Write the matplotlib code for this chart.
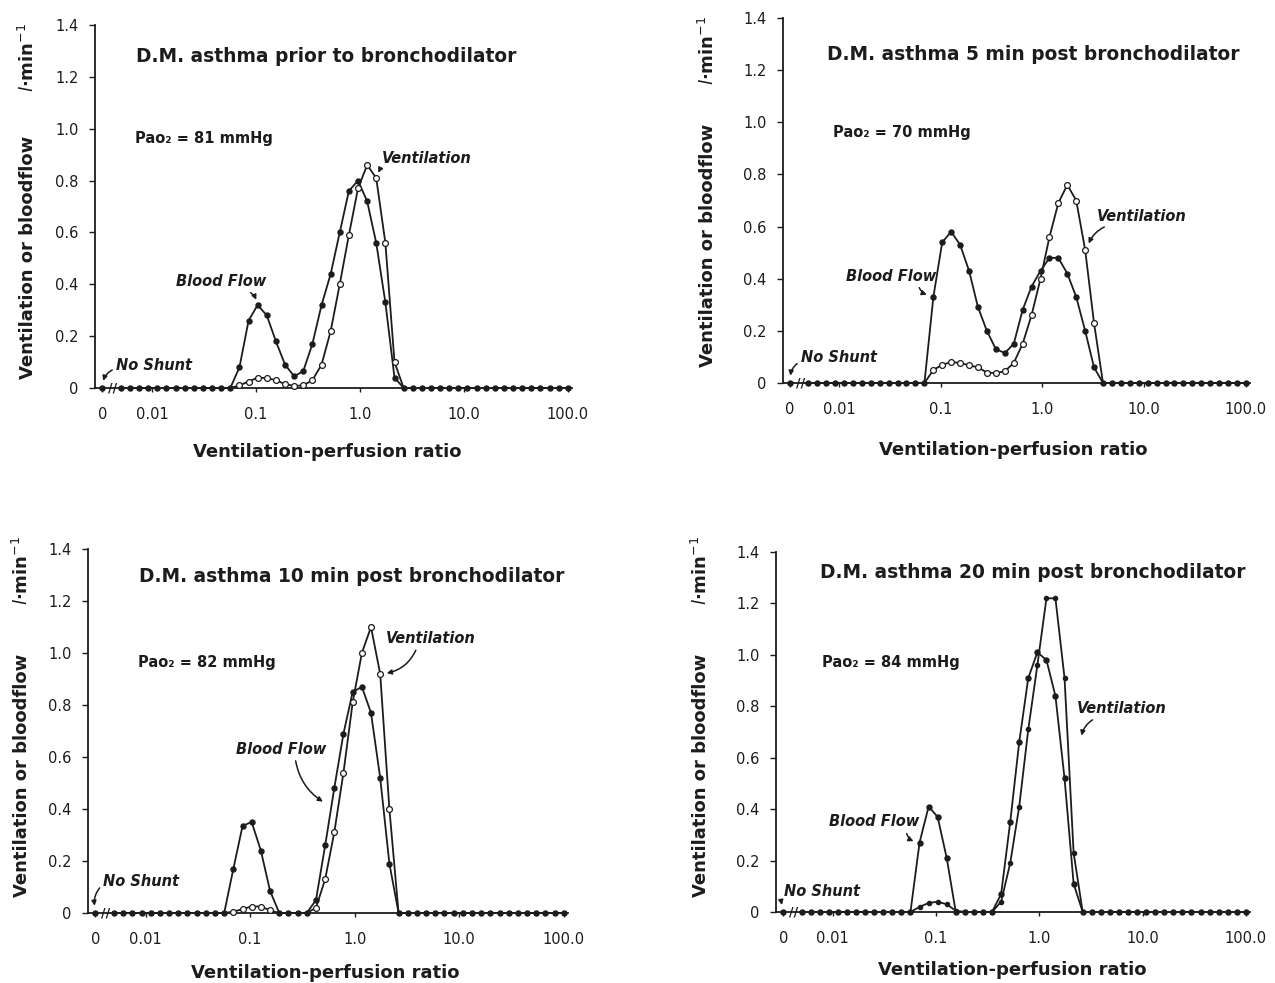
import numpy as np
import matplotlib.pyplot as plt
from matplotlib.ticker import NullLocator

# 50 log-spaced V/Q compartments (0.005 .. 100)
VQ = [0.005, 0.00612, 0.0075, 0.00917, 0.0112, 0.0137, 0.0168, 0.0206, 0.0252, 0.0308,
      0.0378, 0.0461, 0.0565, 0.0692, 0.0847, 0.1035, 0.1268, 0.1552, 0.1901, 0.2328,
      0.2844, 0.3483, 0.4266, 0.5224, 0.6383, 0.7816, 0.9572, 1.172, 1.432, 1.754,
      2.148, 2.630, 3.214, 3.936, 4.819, 5.902, 7.211, 8.831, 10.81, 13.24,
      16.22, 19.82, 24.27, 29.72, 36.39, 44.46, 54.45, 66.68, 81.66, 100.0]
SHUNT_X = 10 ** -2.48   # where "0" (shunt) sits on the axis


def place(start, values):
    out = np.zeros(len(VQ))
    out[start:start + len(values)] = values
    return out


# blood flow / ventilation, l/min
bf_pre = place(12, [0, 0.08, 0.26, 0.32, 0.28, 0.18, 0.09, 0.045, 0.065, 0.17,
                    0.32, 0.44, 0.60, 0.76, 0.80, 0.72, 0.56, 0.33, 0.04, 0])
va_pre = place(12, [0, 0.01, 0.025, 0.04, 0.038, 0.03, 0.015, 0.008, 0.01, 0.03,
                    0.09, 0.22, 0.40, 0.59, 0.77, 0.86, 0.81, 0.56, 0.10, 0])
bf_5 = place(13, [0, 0.33, 0.54, 0.58, 0.53, 0.43, 0.29, 0.20, 0.13, 0.115, 0.15,
                  0.28, 0.37, 0.43, 0.48, 0.48, 0.42, 0.33, 0.20, 0.06, 0])
va_5 = place(13, [0, 0.05, 0.07, 0.08, 0.077, 0.068, 0.06, 0.04, 0.038, 0.045, 0.077,
                  0.15, 0.26, 0.40, 0.56, 0.69, 0.76, 0.70, 0.51, 0.23, 0])
bf_10 = place(12, [0, 0.17, 0.335, 0.35, 0.24, 0.085, 0, 0, 0, 0,
                   0.05, 0.26, 0.48, 0.69, 0.85, 0.87, 0.77, 0.52, 0.19, 0])
va_10 = place(12, [0, 0.005, 0.015, 0.025, 0.025, 0.01, 0, 0, 0, 0,
                   0.02, 0.13, 0.31, 0.54, 0.81, 1.00, 1.10, 0.92, 0.40, 0])
bf_20 = place(12, [0, 0.27, 0.41, 0.37, 0.21, 0, 0, 0, 0, 0,
                   0.07, 0.35, 0.66, 0.91, 1.01, 0.98, 0.84, 0.52, 0.11, 0])
va_20 = place(12, [0, 0.02, 0.035, 0.04, 0.03, 0.005, 0, 0, 0, 0,
                   0.04, 0.19, 0.41, 0.71, 0.96, 1.22, 1.22, 0.91, 0.23, 0])

titles = ["D.M. asthma prior to bronchodilator",
          "D.M. asthma 5 min post bronchodilator",
          "D.M. asthma 10 min post bronchodilator",
          "D.M. asthma 20 min post bronchodilator"]
pao2 = [81, 70, 82, 84]
xtick_vals = [SHUNT_X, 0.01, 0.1, 1, 10, 100]
xtick_labels = ["0", "0.01", "0.1", "1.0", "10.0", "100.0"]
ytick_vals = [0, 0.2, 0.4, 0.6, 0.8, 1.0, 1.2, 1.4]
ytick_labels = ["0", "0.2", "0.4", "0.6", "0.8", "1.0", "1.2", "1.4"]

W, H = 1275, 983
INK = "#1c1c1c"

fig = plt.figure(figsize=(W / 100, H / 100), dpi=100)


def fx(x):
    return x / W


def fy(y):
    return 1 - y / H


# layout in pixels: axes box (left, top, right, bottom), title centre,
# Pao2 text start, xlabel centre, ylabel x / centre y, unit centre y
layout = [
    dict(box=(95, 25, 572, 388), title=(326, 57), pao=(135, 138), xl=(327, 452),
         yl=(28, 257, 57)),
    dict(box=(783, 18, 1250, 383), title=(1033, 55), pao=(833, 133), xl=(1013, 450),
         yl=(708, 245, 50)),
    dict(box=(88, 549, 568, 913), title=(352, 577), pao=(138, 662), xl=(325, 973),
         yl=(22, 775, 570)),
    dict(box=(776, 552, 1250, 912), title=(1033, 572), pao=(822, 662), xl=(1012, 970),
         yl=(701, 775, 570)),
]

# annotation texts (data coords) and arrow targets
notes = [
    [("Blood Flow", (10 ** -1.34, 0.41), (0.1035, 0.325), (0.72, 0.0), -0.35),
     ("Ventilation", (10 ** 0.64, 0.885), (1.45, 0.815), (0.08, 0.1), 0.3),
     ("No Shunt", (10 ** -1.98, 0.088), (SHUNT_X, 0.012), (0.0, 0.3), 0.3)],
    [("Blood Flow", (10 ** -1.49, 0.41), (0.08, 0.335), (0.8, 0.0), 0.35),
     ("Ventilation", (10 ** 0.98, 0.64), (2.75, 0.52), (0.2, 0.0), 0.3),
     ("No Shunt", (10 ** -2.0, 0.096), (SHUNT_X, 0.012), (0.0, 0.3), 0.3)],
    [("Blood Flow", (10 ** -0.70, 0.63), (10 ** -0.27, 0.42), (0.65, 0.0), 0.25),
     ("Ventilation", (10 ** 0.73, 1.055), (1.85, 0.92), (0.35, 0.0), -0.3),
     ("No Shunt", (10 ** -2.04, 0.123), (SHUNT_X, 0.012), (0.0, 0.3), 0.3)],
    [("Blood Flow", (10 ** -1.60, 0.35), (0.066, 0.27), (0.85, 0.0), 0.35),
     ("Ventilation", (10 ** 0.80, 0.79), (10 ** 0.40, 0.67), (0.25, 0.0), 0.3),
     ("No Shunt", (10 ** -2.10, 0.08), (SHUNT_X, 0.012), (0.0, 0.3), 0.3)],
]

series = [(bf_pre, va_pre), (bf_5, va_5), (bf_10, va_10), (bf_20, va_20)]

for i, (bf, va) in enumerate(series):
    L = layout[i]
    l, t, r, b = L["box"]
    ax = fig.add_axes([fx(l), fy(b), (r - l) / W, (b - t) / H])
    ax.set_xscale("log")
    ax.set_xlim(10 ** -2.55, 10 ** 2.04)
    ax.set_ylim(0, 1.4)

    va_marks = [k for k, v in enumerate(va) if v > 0]
    if i < 3:
        ax.plot(VQ, va, color=INK, lw=1.3, marker="o", ms=4.2, mfc="white",
                mec=INK, mew=0.9, markevery=va_marks, zorder=4, clip_on=False)
    else:
        ax.plot(VQ, va, color=INK, lw=1.3, marker="o", ms=3.0, mfc=INK,
                mec=INK, markevery=va_marks, zorder=4, clip_on=False)
    ax.plot(VQ, bf, color=INK, lw=1.3, marker="o", ms=3.6, mfc=INK, mec=INK,
            zorder=3, clip_on=False)
    ax.plot([SHUNT_X], [0], "o", color=INK, ms=3.6, zorder=3, clip_on=False)
    ax.text(10 ** -2.38, 0, "//", fontsize=9, color=INK, ha="center", va="center",
            fontweight="bold", zorder=5)

    for side in ("top", "right"):
        ax.spines[side].set_visible(False)
    for side in ("left", "bottom"):
        ax.spines[side].set_color(INK)
        ax.spines[side].set_linewidth(1.3)

    ax.set_xticks(xtick_vals)
    ax.set_xticklabels(xtick_labels)
    ax.xaxis.set_minor_locator(NullLocator())
    ax.set_yticks(ytick_vals)
    ax.set_yticklabels(ytick_labels)
    ax.tick_params(axis="x", direction="out", length=3, width=1, pad=11,
                   labelsize=10.5, colors=INK)
    ax.tick_params(axis="y", direction="out", length=4, width=1, pad=8,
                   labelsize=10.5, colors=INK)

    for text, xyt, xy, rel, rad in notes[i]:
        ax.annotate(text, xy=xy, xytext=xyt, ha="center", va="center",
                    fontsize=10.5, fontstyle="italic", fontweight="bold", color=INK,
                    arrowprops=dict(arrowstyle="-|>", color=INK, lw=1.1,
                                    mutation_scale=7, relpos=rel, shrinkA=1,
                                    shrinkB=3, connectionstyle=f"arc3,rad={rad}"),
                    zorder=6)

    fig.text(fx(L["title"][0]), fy(L["title"][1]), titles[i], ha="center",
             va="center", fontsize=13.4, fontweight="bold", color=INK)
    fig.text(fx(L["pao"][0]), fy(L["pao"][1]), f"Pao\u2082 = {pao2[i]} mmHg",
             ha="left", va="center", fontsize=10.5, fontweight="bold", color=INK)
    fig.text(fx(L["xl"][0]), fy(L["xl"][1]), "Ventilation-perfusion ratio",
             ha="center", va="center", fontsize=13, fontweight="bold", color=INK)
    yx, yc, uc = L["yl"]
    fig.text(fx(yx), fy(yc), "Ventilation or bloodflow", rotation=90,
             ha="center", va="center", fontsize=13, fontweight="bold", color=INK)
    fig.text(fx(yx), fy(uc), r"$\mathit{l}$·min$^{-1}$", rotation=90,
             ha="center", va="center", fontsize=13, fontweight="bold", color=INK)

fig.savefig("out.png", dpi=100)
